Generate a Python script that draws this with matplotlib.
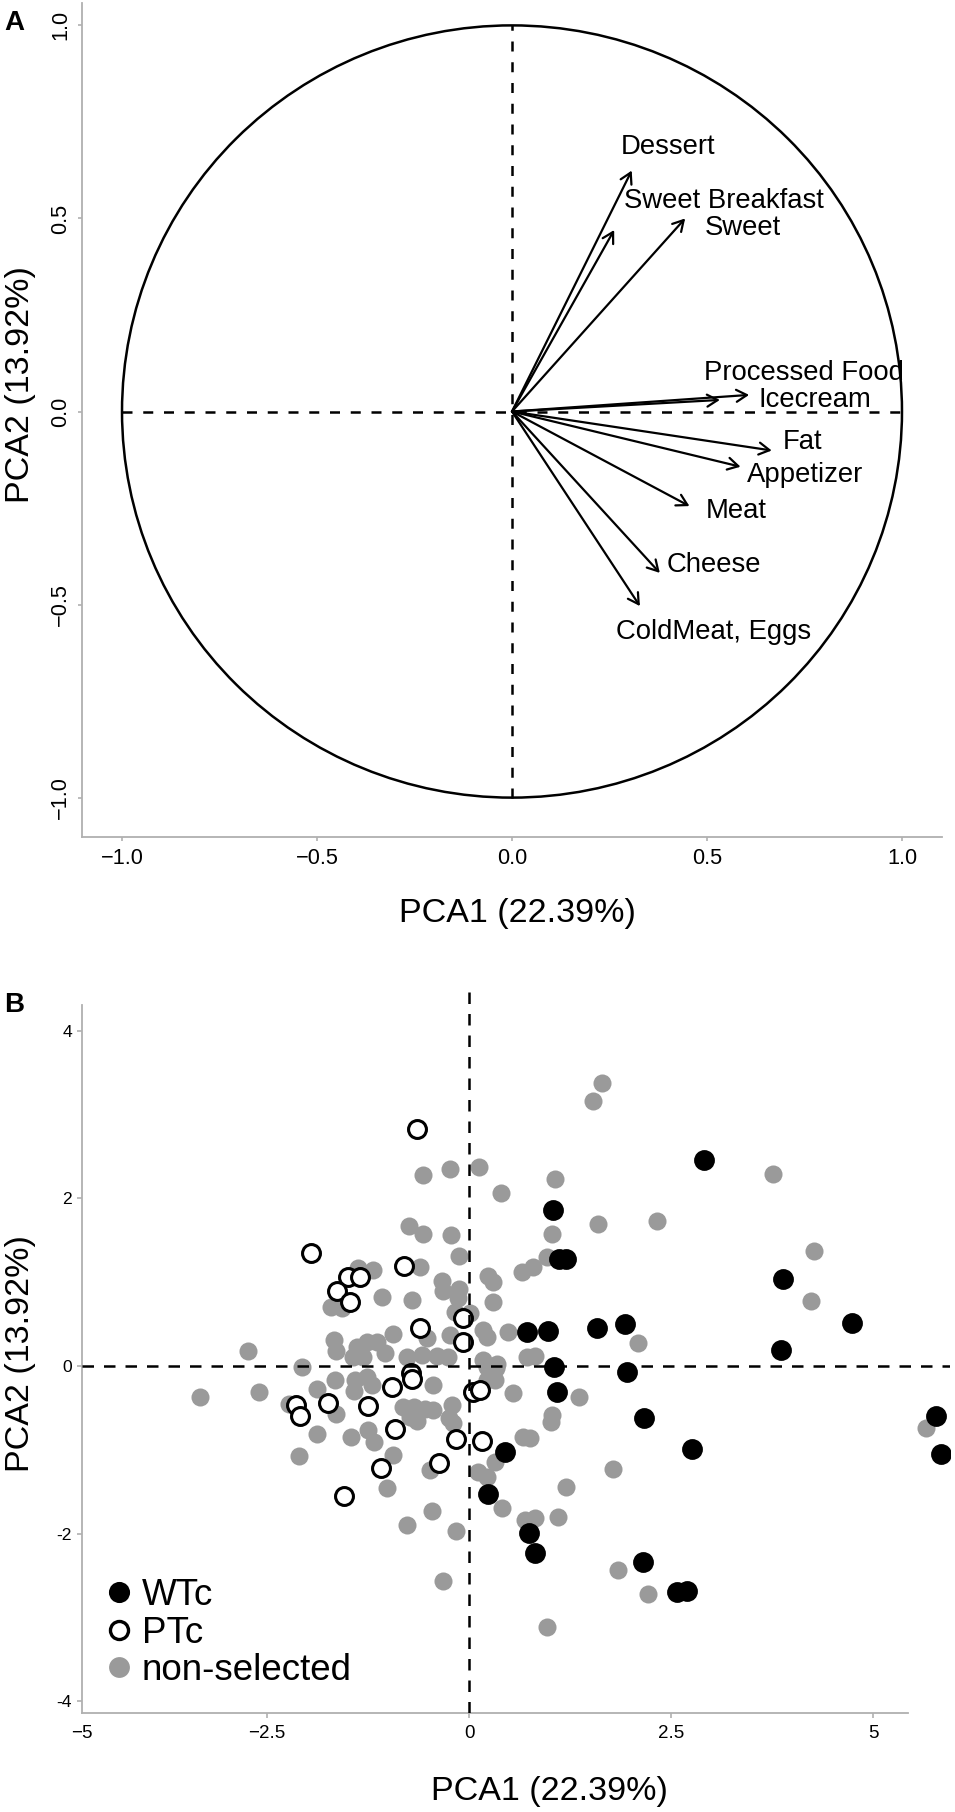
import matplotlib
matplotlib.use("Agg")
import matplotlib.pyplot as plt
from matplotlib.patches import Circle
from matplotlib.lines import Line2D
from matplotlib.ticker import FuncFormatter

plt.rcParams['font.family'] = ['Liberation Sans', 'DejaVu Sans']

# ---------------- Panel A data: variable loadings ----------------
variables = ["Dessert", "Sweet Breakfast", "Sweet", "Processed Food", "Icecream",
             "Fat", "Appetizer", "Meat", "Cheese", "ColdMeat, Eggs"]
load_pc1 = [0.307, 0.262, 0.444, 0.608, 0.533, 0.666, 0.586, 0.455, 0.379, 0.328]
load_pc2 = [0.624, 0.470, 0.500, 0.043, 0.030, -0.101, -0.143, -0.245, -0.418, -0.504]

# ---------------- Panel B data: individual scores ----------------
wtc_pc1 = [2.908, 1.036, 1.118, 1.200, 3.882, 4.740, 3.859, 0.718, 0.978, 1.588, 1.931,
           1.046, 1.952, 1.093, 2.170, 2.756, 0.446, 0.239, 0.746, 0.811, 2.150, 2.571,
           2.702, 5.776, 5.842]
wtc_pc2 = [2.458, 1.862, 1.277, 1.273, 1.035, 0.510, 0.195, 0.400, 0.418, 0.457, 0.498,
           -0.012, -0.068, -0.307, -0.617, -0.990, -1.023, -1.527, -1.989, -2.232, -2.335,
           -2.700, -2.681, -0.597, -1.054]

ptc_pc1 = [-0.644, -1.959, -0.802, -1.498, -1.349, -1.634, -1.476, -0.074, -0.074, -0.603,
           -0.712, -0.702, -0.955, 0.050, 0.140, -1.751, -2.137, -2.092, -1.254, -0.916,
           -0.161, 0.157, -0.368, -1.089, -1.545]
ptc_pc2 = [2.825, 1.345, 1.196, 1.062, 1.066, 0.889, 0.767, 0.567, 0.286, 0.450,
           -0.084, -0.161, -0.254, -0.307, -0.283, -0.445, -0.465, -0.597, -0.481, -0.755,
           -0.874, -0.895, -1.154, -1.221, -1.549]

other_pc1 = [-0.575, -0.235, 0.124, 0.392, 1.064, 1.024, 0.962, 0.796, -0.739, -0.575,
             -0.223, -0.130, -1.370, -1.194, -0.606, -1.708, -1.572, -1.083, -0.705, -0.334,
             -0.318, -0.120, -0.142, 0.229, 0.301, 0.301, 0.652, -0.173, 0.012, 0.177,
             0.486, -2.741, -1.671, -1.646, -1.390, -1.266, -1.142, -0.947, -1.040, -1.308,
             -1.432, -0.524, -0.771, -0.588, -0.402, -0.260, -0.235, -2.071, 0.167, 0.219,
             0.343, 0.718, 0.817, -1.658, -1.885, -1.411, -1.266, -1.200, -1.423, -0.442,
             -1.652, -0.813, -0.681, -0.545, -0.442, -0.730, -0.644, -0.214, -0.248, -0.194,
             0.219, 0.334, 0.322, 0.548, -1.881, -1.460, -1.246, -1.176, 0.672, -2.595,
             -3.329, -2.234, -2.104, -0.944, -1.011, -0.483, 0.322, 0.115, 0.219, 0.405,
             -0.462, -0.771, -0.161, 0.693, 0.817, 1.098, -0.328, 0.962, 1.027, 1.015,
             1.365, 0.755, 1.786, 1.200, 1.840, 2.212, 2.092, 1.650, 1.538, 3.766,
             1.600, 2.323, 4.270, 4.229, 5.652, 0.223]
other_pc2 = [2.285, 2.345, 2.369, 2.061, 2.228, 1.572, 1.304, 1.185, 1.671, 1.575,
             1.563, 1.313, 1.175, 1.146, 1.187, 0.708, 0.689, 0.829, 0.784, 1.014,
             0.895, 0.913, 0.817, 1.068, 1.006, 0.767, 1.125, 0.648, 0.629, 0.430,
             0.400, 0.181, 0.310, 0.179, 0.230, 0.292, 0.292, 0.382, 0.152, 0.111,
             0.111, 0.331, 0.111, 0.131, 0.119, 0.111, 0.370, -0.008, 0.072, -0.008,
             0.024, 0.107, 0.119, -0.167, -0.274, -0.167, -0.131, -0.227, -0.298, -0.221,
             -0.573, -0.486, -0.495, -0.513, -0.525, -0.609, -0.656, -0.465, -0.626, -0.684,
             -0.167, -0.024, -0.167, -0.326, -0.811, -0.847, -0.764, -0.903, -0.853, -0.307,
             -0.366, -0.453, -1.074, -1.062, -1.459, -1.247, -1.142, -1.261, -1.321, -1.698,
             -1.730, -1.897, -1.969, -1.838, -1.817, -1.798, -2.560, -3.109, -0.585, -0.668,
             -0.366, -0.863, -1.233, -1.440, -2.434, -2.721, 0.280, 3.381, 3.166, 2.291,
             1.691, 1.734, 1.376, 0.776, -0.736, 0.346]

group_labels = ["WTc", "PTc", "non-selected"]
xlabel_text = "PCA1 (22.39%)"
ylabel_text = "PCA2 (13.92%)"
ticks_a = [-1.0, -0.5, 0.0, 0.5, 1.0]
xticks_b = [-2.5, 0, 2.5, 5]
yticks_b = [-4, -2, 0, 2, 4]

# ---------------- styling (not data) ----------------
label_offsets = [(26.1, 12.0), (79.3, 15.6), (41.8, -12.0), (39.7, 10.8), (68.4, -5.0),
                 (22.5, 1.1), (46.2, -10.8), (33.6, -8.9), (38.9, 0.7), (53.3, -23.8)]
SPINE = '#b0b0b0'
GRAY = '#9a9a9a'
W, H = 955, 1812

fig = plt.figure(figsize=(W / 100, H / 100), dpi=100)


def px_axes(l, r, t, b):
    return fig.add_axes([l / W, 1 - b / H, (r - l) / W, (b - t) / H])


def style_axes(ax):
    for s in ('top', 'right'):
        ax.spines[s].set_visible(False)
    for s in ('left', 'bottom'):
        ax.spines[s].set_color(SPINE)
        ax.spines[s].set_linewidth(1.3)
    ax.tick_params(color=SPINE, width=1.2, labelcolor='black', direction='out')


# ================= Panel A =================
axA = px_axes(82, 942, 3, 837)
style_axes(axA)
axA.set_xlim(-1.1026, 1.1026)
axA.set_ylim(-1.102, 1.058)
axA.add_patch(Circle((0, 0), 1.0, fill=False, lw=1.8, color='black'))
axA.plot([-1, 1], [0, 0], color='black', lw=1.8, ls=(0, (4, 4.3)), zorder=3)
axA.plot([0, 0], [-1, 1], color='black', lw=1.8, ls=(0, (4, 4.3)), zorder=3)
for name, x, y, off in zip(variables, load_pc1, load_pc2, label_offsets):
    axA.annotate('', xy=(x, y), xytext=(0, 0),
                 arrowprops=dict(arrowstyle='->,head_length=0.42,head_width=0.24',
                                 lw=1.6, color='black', shrinkA=0, shrinkB=0,
                                 mutation_scale=18), zorder=4)
    axA.annotate(name, xy=(x, y), xytext=off, textcoords='offset points',
                 ha='center', va='baseline', fontsize=19.8, color='black')
axA.set_xticks(ticks_a)
axA.set_yticks(ticks_a)
axA.tick_params(axis='both', labelsize=15.7, length=3.2)
axA.tick_params(axis='x', pad=5)
axA.tick_params(axis='y', pad=4.5)
for lab in axA.get_yticklabels():
    lab.set_rotation(90)
    lab.set_va('center')
    lab.set_ha('right')
axA.set_xlabel(xlabel_text, fontsize=24.5)
axA.xaxis.label.set_va('baseline')
axA.xaxis.set_label_coords(0.506, -0.1016)
axA.set_ylabel(ylabel_text, fontsize=24.5)
axA.yaxis.label.set_va('baseline')
axA.yaxis.set_label_coords(-0.0616, 0.543)

fig.text(4 / W, 1 - 30 / H, 'A', fontsize=20, fontweight='bold', va='baseline', ha='left')

# ================= Panel B =================
axB = px_axes(82, 950, 992, 1713)
style_axes(axB)
axB.set_xlim(-4.790, 5.953)
axB.set_ylim(-4.141, 4.463)
axB.spines['left'].set_bounds(-4.141, 4.31)
axB.spines['bottom'].set_bounds(-4.790, 5.43)

axB.scatter(other_pc1, other_pc2, s=169, color=GRAY, linewidths=0, zorder=2)
axB.scatter(ptc_pc1, ptc_pc2, s=166, facecolors='white', edgecolors='black',
            linewidths=2.2, zorder=3)
axB.scatter(wtc_pc1, wtc_pc2, s=182, facecolors='black', edgecolors='black',
            linewidths=1.5, zorder=4)
axB.axhline(0, color='black', lw=1.8, ls=(0, (4.6, 4.0)), zorder=5)
axB.axvline(0, color='black', lw=1.8, ls=(0, (4.6, 4.0)), zorder=5)

axB.set_xticks(xticks_b)
axB.set_yticks(yticks_b)
axB.xaxis.set_major_formatter(FuncFormatter(lambda v, p: f"{v:g}".replace('-', '\u2212')))
axB.yaxis.set_major_formatter(FuncFormatter(lambda v, p: f"{v:g}"))
axB.tick_params(axis='x', labelsize=13.5, length=3.6, pad=5)
axB.tick_params(axis='y', labelsize=12.6, length=3.6, pad=3.6)
axB.annotate('\u22125', xy=(0, 0), xycoords='axes fraction', xytext=(0, -(3.6 + 5)),
             textcoords='offset points', ha='center', va='top', fontsize=13.5)

axB.set_xlabel(xlabel_text, fontsize=24.5)
axB.xaxis.label.set_va('baseline')
axB.xaxis.set_label_coords(0.5386, -0.1207)
axB.set_ylabel(ylabel_text, fontsize=24.5)
axB.yaxis.label.set_va('baseline')
axB.yaxis.set_label_coords(-0.0611, 0.498)

handles = [
    Line2D([], [], marker='o', ls='none', markersize=14, markerfacecolor='black',
           markeredgecolor='black', markeredgewidth=1.2),
    Line2D([], [], marker='o', ls='none', markersize=13, markerfacecolor='white',
           markeredgecolor='black', markeredgewidth=2.4),
    Line2D([], [], marker='o', ls='none', markersize=15, markerfacecolor=GRAY,
           markeredgewidth=0),
]
axB.legend(handles, group_labels, loc='lower left', bbox_to_anchor=(0.030, 0.035),
           frameon=False, fontsize=26.5, handlelength=0.58, handletextpad=0.33,
           labelspacing=0.06, borderpad=0, borderaxespad=0)

fig.text(4 / W, 1 - 1012 / H, 'B', fontsize=20, fontweight='bold', va='baseline', ha='left')

fig.savefig('out.png', dpi=100)
